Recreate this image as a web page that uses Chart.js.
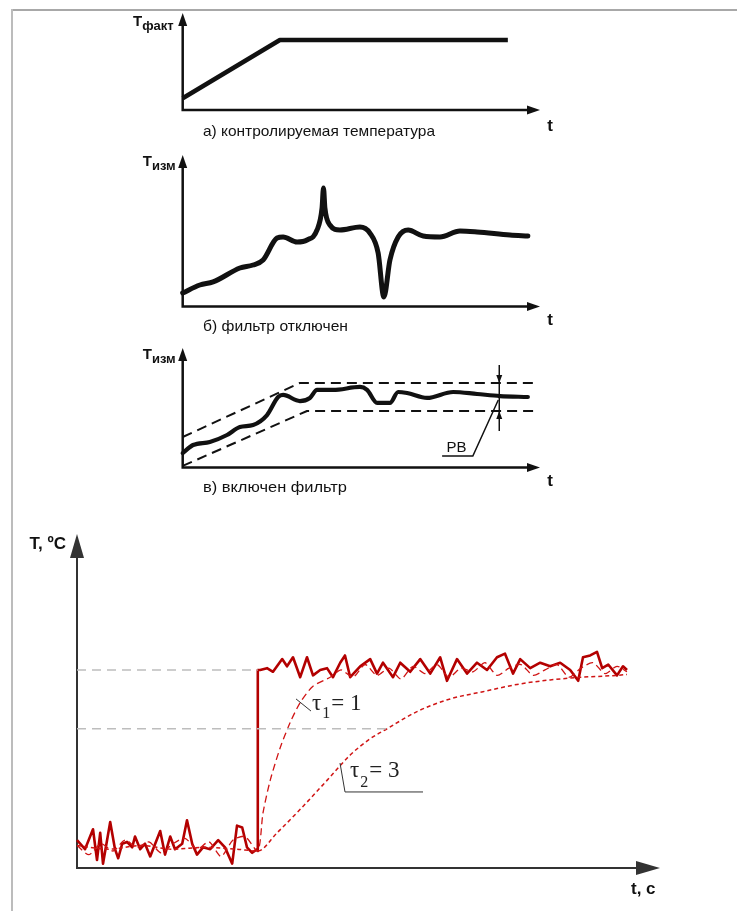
<!DOCTYPE html>
<html><head><meta charset="utf-8">
<script src="https://cdn.jsdelivr.net/npm/chart.js@4.4.1/dist/chart.umd.min.js"></script>
<style>
html,body{margin:0;padding:0;background:#fff;width:737px;height:911px;overflow:hidden;position:relative}
canvas{position:absolute;left:0}
.fr{position:absolute}
</style></head><body>
<div class="fr" style="left:11px;top:9px;width:726px;height:2px;background:#a8a8a8"></div>
<div class="fr" style="left:11px;top:9px;width:2px;height:902px;background:#bcbcbc"></div>
<canvas id="ca" width="737" height="145" style="top:0px"></canvas>
<canvas id="cb" width="737" height="195" style="top:145px"></canvas>
<canvas id="cc" width="737" height="160" style="top:340px"></canvas>
<canvas id="cd" width="737" height="411" style="top:500px"></canvas>
<script>
// ---------- panel a: controlled temperature ----------
const aTime = [0, 27.2, 91.0];
const aTemp = [12.1, 72.2, 72.2];
// ---------- panel b: filter off ----------
const bTime = [0, 4.8, 8.5, 16.0, 19.7, 22.5, 26.4, 28.1, 32.0, 34.8, 37.6, 39.0, 39.4, 39.8, 41.2, 44.0, 49.6, 52.4, 54.7, 56.3, 58.0, 60.3, 63.1, 67.3, 72.0, 77.6, 82.4, 91.6, 96.6];
const bTemp = [8.9, 14.2, 16.2, 25.4, 27.4, 30.7, 45.2, 45.9, 42.6, 43.9, 50.5, 65.0, 78.2, 65.0, 53.8, 50.5, 52.5, 48.5, 35.3, 6.3, 30.7, 45.9, 50.5, 46.5, 45.9, 49.8, 49.2, 47.2, 46.5];
// ---------- panel c: filter on ----------
const cUpTime = [0, 32.8, 99.2];
const cUpper = [25.5, 70.7, 70.7];
const cLowTime = [0, 34.8, 99.2];
const cLower = [1.3, 47.3, 47.3];
const cTime = [0, 2.9, 7.6, 12.4, 16.0, 19.7, 23.6, 26.7, 28.1, 32.8, 35.6, 37.6, 42.1, 49.6, 51.6, 54.4, 58.0, 60.3, 62.8, 68.4, 75.7, 82.4, 88.8, 96.6];
const cTemp = [12.1, 18.8, 21.3, 27.2, 33.9, 35.6, 43.9, 59.0, 60.7, 55.6, 58.2, 64.9, 64.9, 67.4, 64.9, 54.0, 54.0, 63.2, 62.3, 58.2, 63.2, 61.5, 59.8, 59.0];
const cPbTime = 88.6;
// ---------- panel d: step response ----------
const dRawTime = [0,0.2,0.4,0.5,0.58,0.65,0.83,0.95,1.03,1.13,1.25,1.38,1.45,1.58,1.7,1.83,2.08,2.2,2.33,2.45,2.63,2.75,2.88,3.0,3.15,3.33,3.53,3.7,3.88,4.0,4.13,4.25,4.38,4.5,4.52,4.52,4.58,4.75,4.9,5.13,5.25,5.4,5.58,5.75,5.9,6.08,6.25,6.4,6.58,6.7,6.83,7.08,7.33,7.5,7.65,7.9,8.08,8.33,8.58,8.83,9.08,9.25,9.5,9.75,10.0,10.25,10.5,10.7,10.9,11.08,11.33,11.58,11.83,12.08,12.33,12.53,12.65,12.83,13.0,13.13,13.28,13.5,13.65,13.75];
const dRaw = [6,1,12,-5,10,-7,16,1,-4,4,5,2,8,1,4,-3,11,-2,8,1,4,17,4,-2,2,1,6,2,-7,14,13,2,-1,1,0,100,100,101,99,106,102,107,96,107,97,100,101,96,104,108,96,102,106,98,104,96,104,99,106,98,107,94,106,98,104,100,107,109,98,106,101,104,102,104,100,94,107,108,110,101,103,97,102,100];
const dT1Time = [0,0.3,0.6,0.9,1.2,1.5,1.8,2.1,2.4,2.7,3.0,3.3,3.6,3.9,4.2,4.52,4.65,4.83,5.08,5.33,5.58,5.9,6.33,6.6,6.9,7.2,7.5,7.8,8.1,8.4,8.7,9.0,9.3,9.6,9.9,10.2,10.5,10.8,11.1,11.4,11.7,12.0,12.3,12.6,12.9,13.2,13.5,13.75];
const dT1 = [3,-2,4,0,6,2,5,-1,4,7,1,5,-3,6,8,0,21,39,57,71,82,91,96,100,96,103,97,101,95,102,98,103,96,101,99,104,97,101,103,97,100,103,96,101,104,98,102,99];
const dT2Time = [0,0.8,1.6,2.4,3.2,4.0,4.52,5.0,5.58,6.25,6.83,7.33,7.75,8.5,9.33,10.15,11.0,11.83,12.65,13.5,13.75];
const dT2 = [3,1,3,1,2,1,0,10,23,39,53,62,67.5,77,84,88,92,94.5,96,97,97.5];
const dSetpoint = 100, dLevel63 = 67.5, dStepTime = 4.52, dLevel63Time = 7.75;
const tau1Label = "1", tau2Label = "3";

const pts = (xs, ys) => xs.map((x, i) => ({x, y: ys[i]}));

function arrowHead(ctx, x1, y1, x2, y2, len, hw) {
  const a = Math.atan2(y2 - y1, x2 - x1), c = Math.cos(a), s = Math.sin(a);
  ctx.beginPath();
  ctx.moveTo(x2, y2);
  ctx.lineTo(x2 - len * c + hw * s, y2 - len * s - hw * c);
  ctx.lineTo(x2 - len * c - hw * s, y2 - len * s + hw * c);
  ctx.closePath(); ctx.fill();
}
function drawAxes(ctx, ca, color, lw, len, hw) {
  ctx.save();
  ctx.strokeStyle = color; ctx.fillStyle = color; ctx.lineWidth = lw;
  ctx.beginPath();
  ctx.moveTo(ca.left, ca.top + len - 2);
  ctx.lineTo(ca.left, ca.bottom);
  ctx.lineTo(ca.right - len + 2, ca.bottom);
  ctx.stroke();
  arrowHead(ctx, ca.left, ca.bottom, ca.left, ca.top, len, hw);
  arrowHead(ctx, ca.left, ca.bottom, ca.right, ca.bottom, len, hw);
  ctx.restore();
}
function fitText(ctx, txt, x, y, font, width) {
  ctx.font = font;
  const w = ctx.measureText(txt).width;
  ctx.save(); ctx.translate(x, y); ctx.scale(width / w, 1);
  ctx.textAlign = 'left'; ctx.fillText(txt, 0, 0); ctx.restore();
}
function symLabel(ctx, main, sub, xRight, yBase) {
  ctx.save(); ctx.fillStyle = '#111'; ctx.textBaseline = 'alphabetic';
  ctx.font = 'bold 13px "Liberation Sans", Arial, sans-serif';
  const ws = ctx.measureText(sub).width;
  ctx.fillText(sub, xRight - ws, yBase + 4);
  ctx.font = 'bold 15px "Liberation Sans", Arial, sans-serif';
  const wm = ctx.measureText(main).width;
  ctx.fillText(main, xRight - ws - wm, yBase);
  ctx.restore();
}

function makeChart(id, datasets, xr, yr, pad, axisStyle, extra) {
  const ctx = document.getElementById(id).getContext('2d');
  return new Chart(ctx, {
    type: 'line',
    data: {datasets},
    options: {
      responsive: false, animation: false, devicePixelRatio: 1,
      layout: {padding: pad},
      plugins: {legend: {display: false}, tooltip: {enabled: false}},
      elements: {point: {radius: 0, hoverRadius: 0}},
      scales: {
        x: {type: 'linear', min: xr[0], max: xr[1], display: false},
        y: {type: 'linear', min: yr[0], max: yr[1], display: false}
      }
    },
    plugins: [{
      id: 'deco' + id,
      beforeDatasetsDraw(chart) {
        drawAxes(chart.ctx, chart.chartArea, axisStyle.color, axisStyle.lw, axisStyle.len, axisStyle.hw);
      },
      afterDatasetsDraw(chart) { extra(chart.ctx, chart); }
    }]
  });
}

const black = '#111';
const solid = (data, w, extra) => Object.assign({data, borderColor: black, borderWidth: w, tension: 0, clip: false,
  borderJoinStyle: 'round', borderCapStyle: 'round', fill: false}, extra || {});
const smallAxis = {color: '#111', lw: 2.5, len: 13, hw: 4.5};
const capFont = '15px "Liberation Sans", Arial, sans-serif';
const tFont = 'bold 17px "Liberation Sans", Arial, sans-serif';

// panel a
makeChart('ca', [solid(pts(aTime, aTemp), 4.5, {borderCapStyle: 'butt'})], [0, 100], [0, 100],
  {left: 182.7, right: 197, top: 13, bottom: 35}, smallAxis, (ctx, ch) => {
    const ca = ch.chartArea;
    symLabel(ctx, 'T', 'факт', ca.left - 9, ca.top + 13);
    ctx.fillStyle = '#111'; ctx.textBaseline = 'middle';
    fitText(ctx, 'а) контролируемая температура', 203, 132, capFont, 232);
    ctx.font = tFont; ctx.textAlign = 'center'; ctx.fillText('t', 550, 126);
  });

// panel b
makeChart('cb', [solid(pts(bTime, bTemp), 5, {cubicInterpolationMode: 'monotone'})], [0, 100], [0, 100],
  {left: 182.7, right: 197, top: 10, bottom: 33.5}, smallAxis, (ctx, ch) => {
    const ca = ch.chartArea;
    symLabel(ctx, 'T', 'изм', ca.left - 7, ca.top + 11);
    ctx.fillStyle = '#111'; ctx.textBaseline = 'middle';
    fitText(ctx, 'б) фильтр отключен', 203, 327 - 145, capFont, 145);
    ctx.font = tFont; ctx.textAlign = 'center'; ctx.fillText('t', 550, 320 - 145);
  });

// panel c
makeChart('cc', [
  solid(pts(cUpTime, cUpper), 2, {borderDash: [10, 6], borderCapStyle: 'butt'}),
  solid(pts(cLowTime, cLower), 2, {borderDash: [10, 6], borderCapStyle: 'butt'}),
  solid(pts(cTime, cTemp), 4.2, {cubicInterpolationMode: 'monotone'})
], [0, 100], [0, 100], {left: 182.7, right: 197, top: 8, bottom: 32.5}, smallAxis, (ctx, ch) => {
  const ca = ch.chartArea, xs = ch.scales.x, ys = ch.scales.y;
  symLabel(ctx, 'T', 'изм', ca.left - 7, ca.top + 11);
  ctx.fillStyle = '#111'; ctx.textBaseline = 'middle';
  fitText(ctx, 'в) включен фильтр', 203, 488 - 340, capFont, 144);
  ctx.font = tFont; ctx.textAlign = 'center'; ctx.fillText('t', 550, 481 - 340);
  // PB band marker
  const px = xs.getPixelForValue(cPbTime);
  const yUp = ys.getPixelForValue(cUpper[2]), yLo = ys.getPixelForValue(cLower[2]);
  ctx.save(); ctx.strokeStyle = '#111'; ctx.fillStyle = '#111'; ctx.lineWidth = 1.5;
  ctx.beginPath(); ctx.moveTo(px, yUp - 18); ctx.lineTo(px, yLo + 20); ctx.stroke();
  arrowHead(ctx, px, yUp - 18, px, yUp, 8, 3);
  arrowHead(ctx, px, yLo + 20, px, yLo, 8, 3);
  ctx.beginPath();
  ctx.moveTo(px - 1, ys.getPixelForValue(56.5));
  ctx.lineTo(xs.getPixelForValue(81.2), ys.getPixelForValue(9.6));
  ctx.lineTo(xs.getPixelForValue(72.6), ys.getPixelForValue(9.6));
  ctx.stroke();
  ctx.font = '15px "Liberation Sans", Arial, sans-serif'; ctx.textAlign = 'center'; ctx.textBaseline = 'alphabetic';
  ctx.fillText('РВ', xs.getPixelForValue(76.6), ys.getPixelForValue(9.6) - 4);
  ctx.restore();
});

// panel d
const redRaw = '#b30000', redF = '#d01414', guide = '#bdbdbd';
makeChart('cd', [
  {data: pts([0, dStepTime], [dSetpoint, dSetpoint]), borderColor: guide, borderWidth: 1.5, borderDash: [9, 6], clip: false},
  {data: pts([0, dLevel63Time], [dLevel63, dLevel63]), borderColor: guide, borderWidth: 1.5, borderDash: [9, 6], clip: false},
  {data: pts(dT2Time, dT2), borderColor: redF, borderWidth: 1.5, borderDash: [4, 3], cubicInterpolationMode: 'monotone', clip: false},
  {data: pts(dT1Time, dT1), borderColor: redF, borderWidth: 1.3, borderDash: [7, 4], tension: 0.25, clip: false},
  {data: pts(dRawTime, dRaw), borderColor: redRaw, borderWidth: 2.6, tension: 0, borderJoinStyle: 'round', clip: false}
], [0, 14.575], [-9.4, 175.1], {left: 77, right: 77, top: 34, bottom: 43},
  {color: '#333', lw: 2, len: 24, hw: 7}, (ctx, ch) => {
    const xs = ch.scales.x, ys = ch.scales.y, ca = ch.chartArea;
    ctx.save();
    ctx.fillStyle = '#111'; ctx.textBaseline = 'middle';
    ctx.font = 'bold 17px "Liberation Sans", Arial, sans-serif';
    ctx.textAlign = 'right'; ctx.fillText('T, ºC', ca.left - 11, ca.top + 10);
    ctx.textAlign = 'left'; ctx.fillText('t, c', 631, 389);
    // tau1 leader and label
    ctx.strokeStyle = '#333'; ctx.lineWidth = 1;
    const l1x = xs.getPixelForValue(5.475), l1y = ys.getPixelForValue(84);
    const l1x2 = xs.getPixelForValue(5.85), l1y2 = ys.getPixelForValue(77.3);
    ctx.beginPath(); ctx.moveTo(l1x, l1y); ctx.lineTo(l1x2, l1y2); ctx.stroke();
    ctx.fillStyle = '#222'; ctx.textBaseline = 'alphabetic'; ctx.textAlign = 'left';
    let x = l1x2 + 1, base = l1y2 - 1;
    ctx.font = '23px "Liberation Serif", "Times New Roman", serif';
    ctx.fillText('τ', x, base); x += ctx.measureText('τ').width;
    ctx.font = '16px "Liberation Serif", "Times New Roman", serif';
    ctx.fillText('1', x + 1, base + 8); x += ctx.measureText('1').width + 2;
    ctx.font = '23px "Liberation Serif", "Times New Roman", serif';
    ctx.fillText('= ' + tau1Label, x, base);
    // tau2 leader and label
    const a2x = xs.getPixelForValue(6.575), a2y = ys.getPixelForValue(48.6);
    const c2x = xs.getPixelForValue(6.7), c2y = ys.getPixelForValue(32.6);
    const e2x = xs.getPixelForValue(8.65);
    ctx.beginPath(); ctx.moveTo(a2x, a2y); ctx.lineTo(c2x, c2y); ctx.lineTo(e2x, c2y); ctx.stroke();
    x = c2x + 5; base = c2y - 15;
    ctx.font = '23px "Liberation Serif", "Times New Roman", serif';
    ctx.fillText('τ', x, base); x += ctx.measureText('τ').width;
    ctx.font = '16px "Liberation Serif", "Times New Roman", serif';
    ctx.fillText('2', x + 1, base + 10); x += ctx.measureText('2').width + 2;
    ctx.font = '23px "Liberation Serif", "Times New Roman", serif';
    ctx.fillText('= ' + tau2Label, x, base);
    ctx.restore();
  });
</script>
</body></html>
